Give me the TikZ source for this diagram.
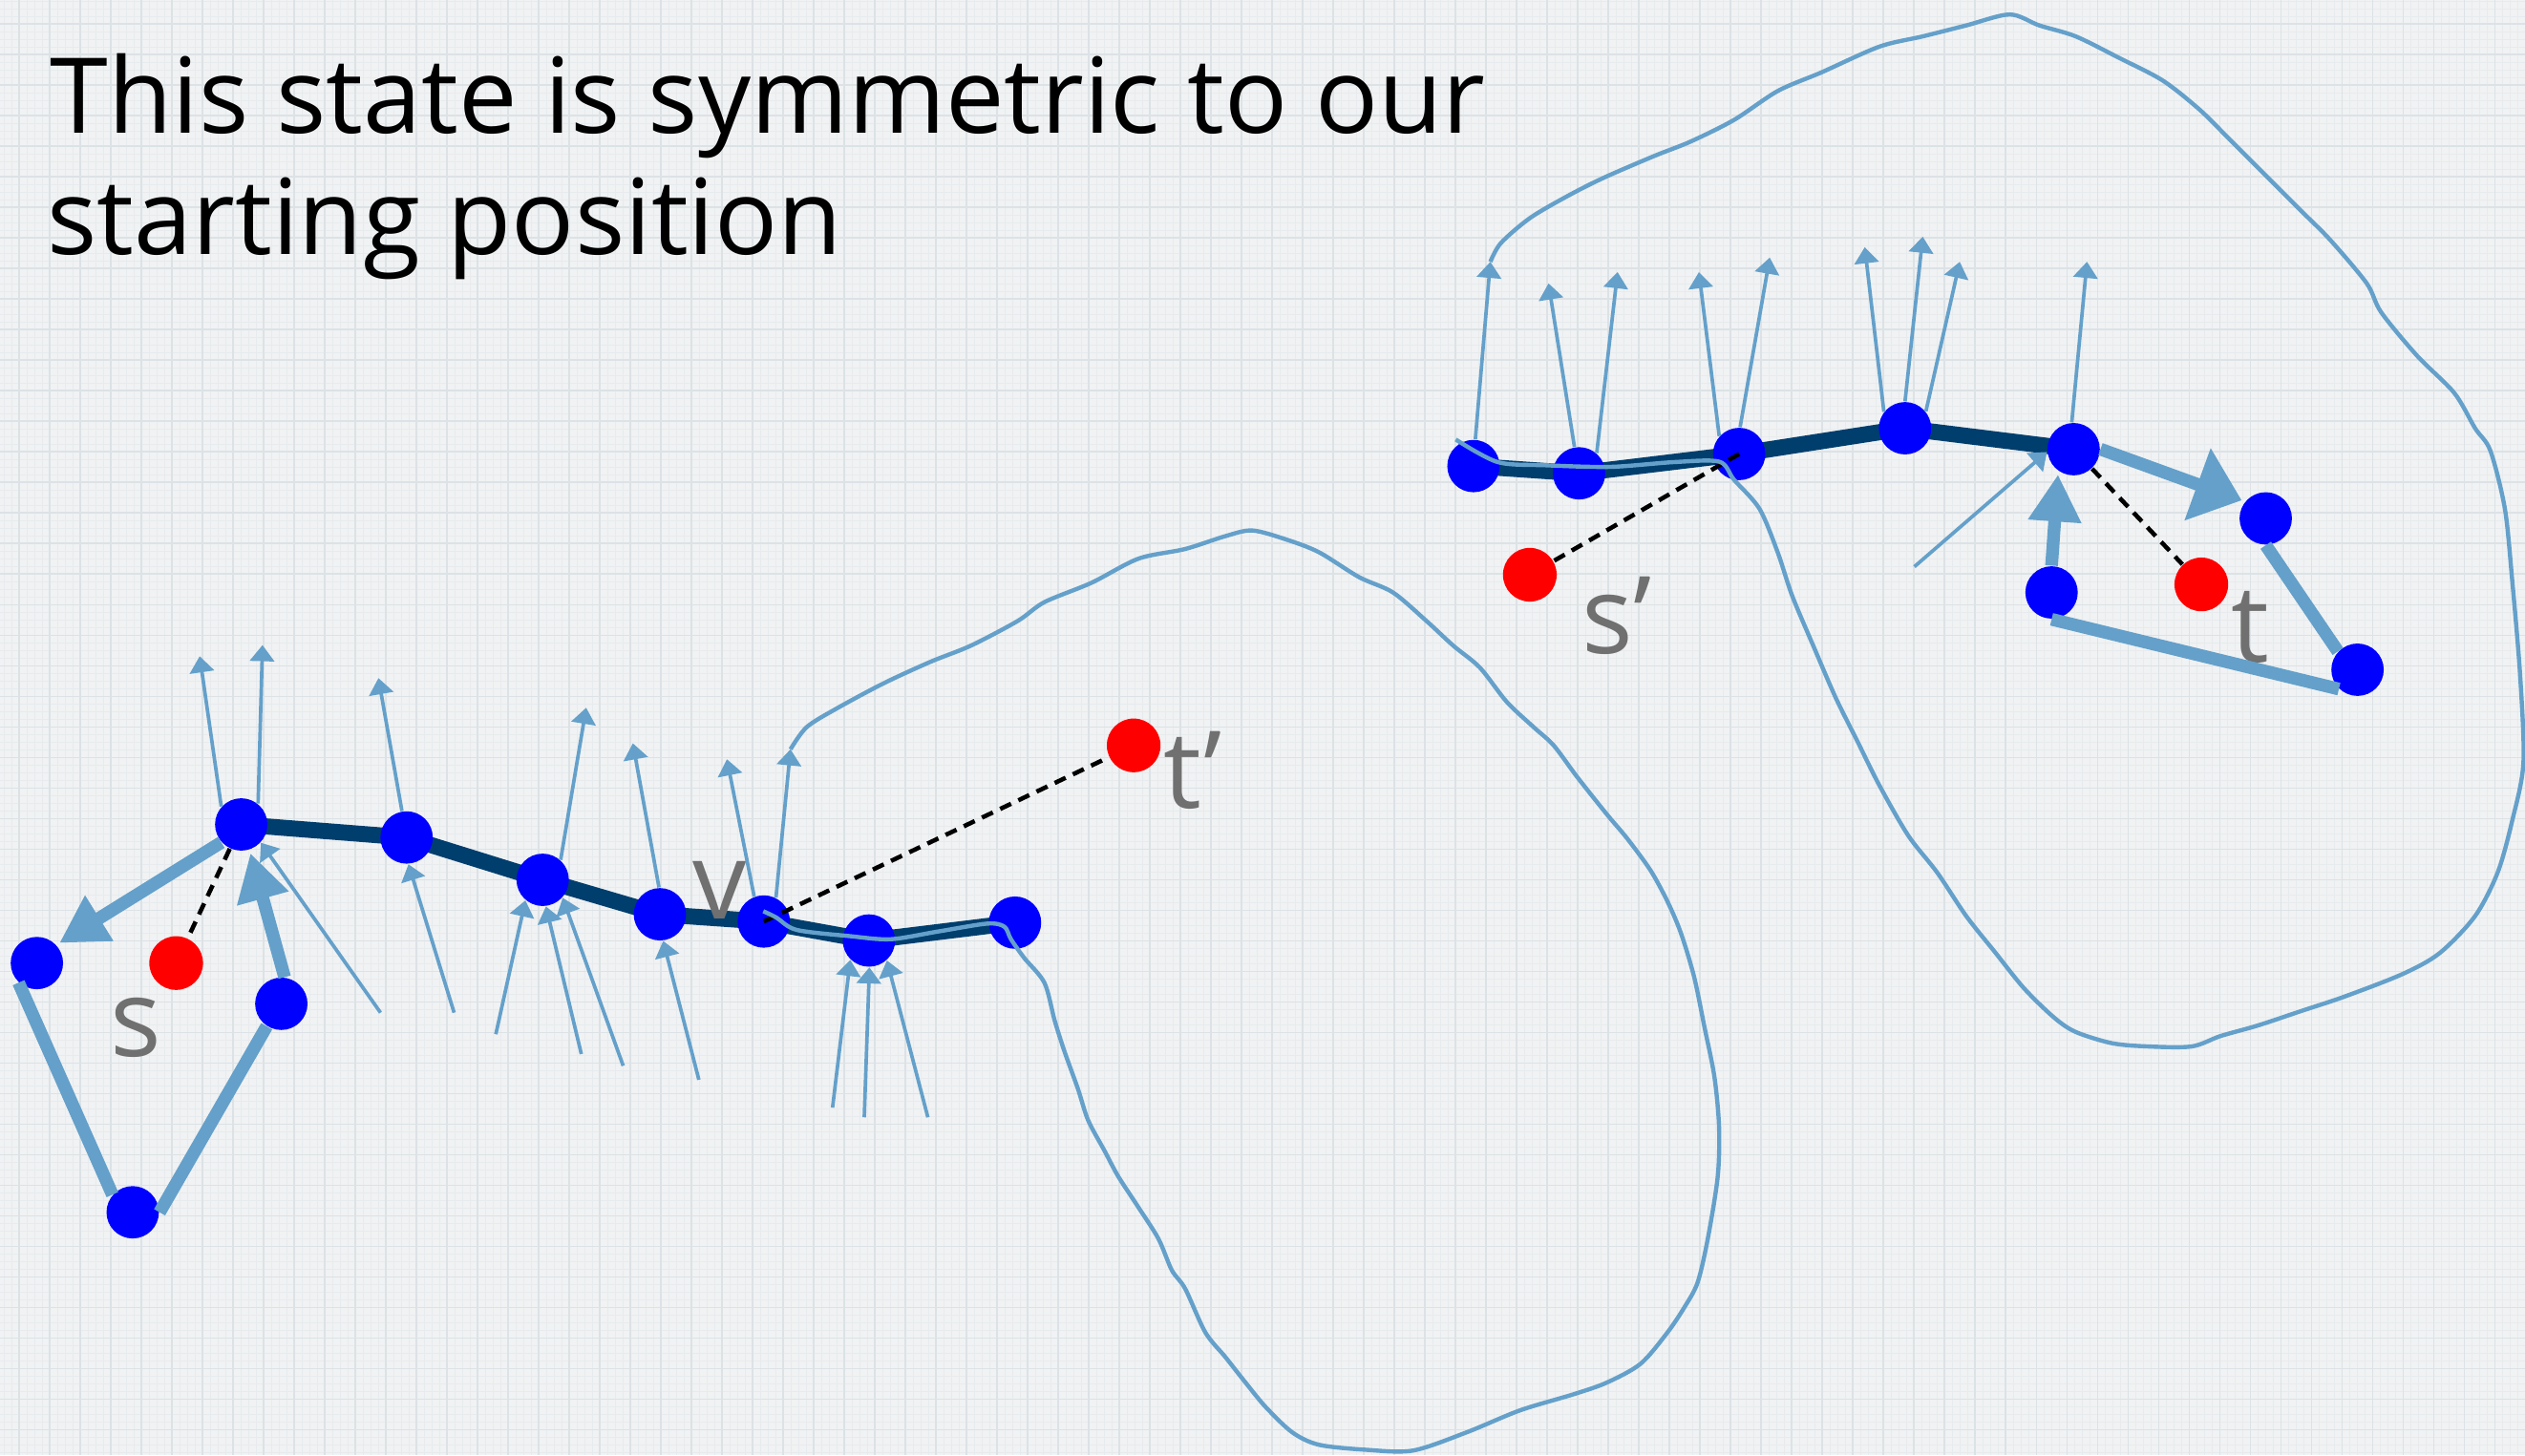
\documentclass[tikz,border=0pt]{standalone}
\usepackage{fontspec}
\setmainfont{Open Sans}
\usetikzlibrary{positioning,arrows.meta}

\definecolor{paper}{RGB}{240,242,243}
\definecolor{gridmajor}{RGB}{220,226,229}
\definecolor{gridminor}{RGB}{232,235,237}
\definecolor{flowblue}{RGB}{100,160,202}
\definecolor{pathnavy}{RGB}{0,62,110}
\definecolor{nodeblue}{RGB}{0,0,255}
\definecolor{termred}{RGB}{255,0,0}
\definecolor{labelgray}{RGB}{112,112,112}

\pgfdeclarelayer{under}
\pgfsetlayers{under,main}

\begin{document}
\begin{tikzpicture}[x=0.016862cm, y=-0.016862cm,
  vtx/.style={circle, fill=nodeblue, minimum size=15.6pt, inner sep=0pt},
  term/.style={circle, fill=termred, minimum size=16pt, inner sep=0pt},
  lbl/.style={text=labelgray, font=\fontsize{32}{38}\selectfont,
    inner sep=0pt, anchor=base west},
  title/.style={font=\fontsize{31.2}{38}\selectfont, inner sep=0pt, anchor=base west},
  spine/.style={draw=pathnavy, line width=4.8pt, line join=round},
  flow/.style={draw=flowblue, line width=1.05pt, -{Triangle[length=4.8pt, width=7.2pt]}},
  push/.style={draw=flowblue, line width=3.8pt,
    -{Triangle[length=14pt, width=15pt]}, shorten >=1pt},
  rim/.style={draw=flowblue, line width=3.8pt},
  reach/.style={draw=black, line width=1.3pt, dash pattern=on 3.6pt off 2.4pt},
  outline/.style={draw=flowblue, line width=1.25pt, line join=round},
]
\useasboundingbox (0,0) rectangle (1568,904);

% grid paper
\begin{pgfonlayer}{under}
\fill[paper] (0,0) rectangle (1568,904);
\foreach \k in {0,...,332}
  \draw[gridminor, line width=0.25pt] ({2.4+\k*4.745},0) -- ++(0,904);
\foreach \k in {0,...,191}
  \draw[gridminor, line width=0.25pt] (0,{1.0+\k*4.745}) -- ++(1568,0);
\foreach \k in {0,...,82}
  \draw[gridmajor, line width=0.5pt] ({11.9+\k*18.98},0) -- ++(0,904);
\foreach \k in {0,...,47}
  \draw[gridmajor, line width=0.5pt] (0,{15+\k*18.98}) -- ++(1568,0);
\end{pgfonlayer}

\node[title] (head1) at (31,83) {This state is symmetric to our};
\node[title] (head2) at (29,158) {starting position};

% vertices
\foreach \n/\x/\y in {l1/22.9/598.2, l2/82.4/753, l3/174.7/623.5, l4/149.8/512.1,
    l5/252.5/520.2, l6/337/546.5, l7/409.8/567.9, l8/474.3/572.4, l9/539.6/584.2,
    l10/630.3/573.1, r1/915/289.5, r2/980.6/294, r3/1080/282, r4/1183/266,
    r5/1287.7/279, r6/1407/322, r7/1464/416, r8/1274/368}
  \node[vtx] (\n) at (\x,\y) {};

\node[term] (s) at (109.4,598.2) {};
\node[term] (tp) at (704,463) {};
\node[term] (sp) at (950,357) {};
\node[term] (t) at (1367,363) {};

\node[lbl] (slbl) at (68,656) {s};
\node[lbl] (vlbl) at (430,571) {v};
\node[lbl] (tplbl) at (722,502) {t'};
\node[lbl] (splbl) at (982,406) {s'};
\node[lbl] (tlbl) at (1385,411) {t};

\begin{pgfonlayer}{under}
\draw[spine] (l4.center) -- (l5.center) -- (l6.center) -- (l7.center)
  -- (l8.center) -- (l9.center) -- (l10.center);
\draw[spine] (r1.center) -- (r2.center) -- (r3.center) -- (r4.center) -- (r5.center);
\end{pgfonlayer}

% thin arrows leaving the path
\foreach \v/\a/\x/\y [count=\i] in {l4/138/124/407.6, l4/51/163/400.7, l5/100/235/421.2,
    l6/48/364/439.6, l7/92/393/461.7, l8/111/451.4/471.6, l8/63/490.9/465.4,
    r1/86/925.5/162.6, r2/100/961.6/176, r2/49/1004.5/169, r3/138/1055/169,
    r3/88/1099/160, r4/142/1158/153.5, r4/90/1194/147, r4/39/1217/162.6,
    r5/94/1296/162.6}
{
  \coordinate (up\i) at (\x,\y);
  \draw[flow] (\v.\a) -- (up\i);
}

% thin arrows entering the path
\foreach \v/\a/\x/\y [count=\i] in {l4/317/236.3/629, l5/274/282/629, l6/230/307.9/642.4,
    l6/277/361/654.7, l6/318/387/662, l7/277/434/670.7, l9/226/517/688,
    l9/271/536.7/694, l9/312/576.2/694, r5/186/1188.8/352}
{
  \coordinate (in\i) at (\x,\y);
  \draw[flow] (in\i) -- (\v.\a);
}

% thick moves
\draw[push] (l4.222) -- (l1.43);
\draw[push] (l3.83) -- (l4.288);
\draw[rim] (l1.227) -- (l2.139);
\draw[rim] (l2.0) -- (l3.237);
\draw[push] (r8.90) -- (r5.235);
\draw[push, -{Triangle[length=14pt, width=22pt]}] (r5.0) -- (r6.141);
\draw[rim] (r6.270) -- (r7.137);
\draw[rim] (r8.south) -- (r7.226);

% dashed links
\draw[reach] (l4) -- (s);
\draw[reach] (l8.center) -- (tp);
\draw[reach] (r3.center) -- (sp);
\draw[reach] (r5) -- (t);

% regions
\draw[outline] plot[smooth, tension=0.5] coordinates {(up7) (501,451.6) (519.7,440)
  (548.8,424.4) (578,411) (603,401) (632,385.7) (648.6,374) (677.8,362) (707,347)
  (736,341) (761,333) (777.6,329.5) (798.4,335) (819,343) (844,358.5) (865,368)
  (885.8,385.7) (902.4,401) (919,414.7) (935.7,436) (952.3,451.6) (964.8,463)
  (979.4,482.6) (998,506) (1010.6,521) (1025,540.7) (1035.5,560) (1043.8,579.5)
  (1052,606.7) (1058.4,637.7) (1064.6,668.7) (1067.5,699.7) (1066.7,730.7)
  (1060.5,769.5) (1054.2,796.6) (1046,812) (1035.5,827.6) (1018.9,847) (998,858.7)
  (977.3,866) (944,876) (910.7,889.7) (877.4,901) (848,900.5) (819,897.4)
  (802.5,889.7) (786,874) (773.4,858.7) (761,843) (748.5,827.6) (736,800.5)
  (727.7,789) (719.4,769.5) (707,750) (694.4,730.7) (686,715) (675.7,695.8)
  (669.4,676.4) (661,653) (654.9,633.8) (648.6,610.5) (636,595) (627.8,583.4)
  (623.7,575.6) (613,573.7) (582,578.7) (553,583.4) (528,581.5) (494.7,577.6)
  (482.2,570) (474,566)};
\draw[outline] plot[smooth, tension=0.5] coordinates {(up8) (932,151) (950,135.5)
  (973,122) (995.5,110.6) (1027,97) (1049.7,88) (1076.8,74.5) (1104,56.5) (1131,45)
  (1167,29) (1194,22.6) (1221,15.8) (1248,9) (1266.4,15.8) (1289,22.6) (1316,36)
  (1343,50) (1365.8,68) (1384,86) (1402,104) (1429,131) (1447,149) (1469.7,176)
  (1478.7,194) (1501,221) (1524,244) (1537,266) (1546.5,280) (1555.5,316)
  (1560,360) (1565,420) (1567,474) (1560,510) (1551,542) (1537,569) (1515,592)
  (1492,605) (1456,619) (1429,628) (1402,637) (1379,643.5) (1361,650) (1334,650)
  (1311.6,648) (1289,641) (1275.5,632) (1257,614) (1239,591.6) (1221,569) (1203,542)
  (1185,519) (1167,487.7) (1153.5,460.6) (1140,433.5) (1126.4,402) (1112.9,370)
  (1103.9,343) (1092.6,316) (1076.8,298) (1067.7,286.8) (1040,287) (1000,290)
  (960,289) (930,287) (904,273)};
\end{tikzpicture}
\end{document}
